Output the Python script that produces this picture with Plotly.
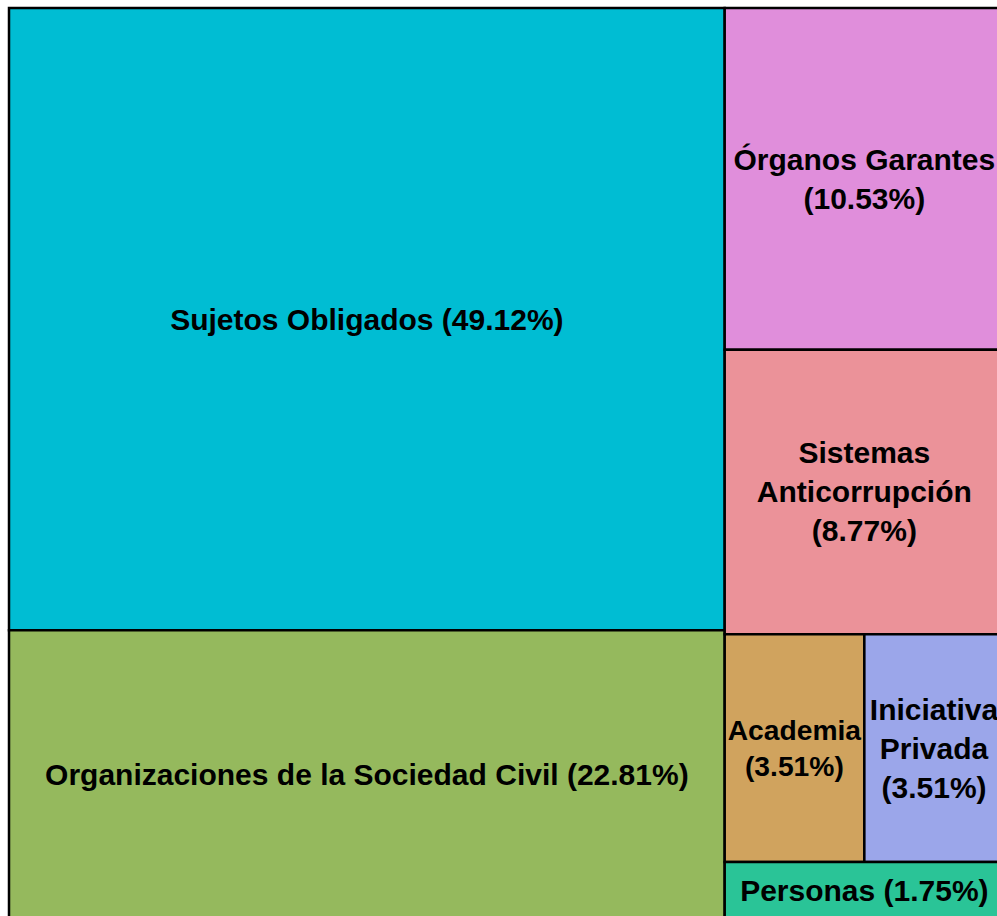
import plotly.graph_objects as go

labels = ["Sujetos Obligados", "Organizaciones de la Sociedad Civil", "Órganos Garantes",
          "Sistemas Anticorrupción", "Academia", "Iniciativa Privada", "Personas"]
display_text = ["Sujetos Obligados (49.12%)", "Organizaciones de la Sociedad Civil (22.81%)",
                "Órganos Garantes<br>(10.53%)", "Sistemas<br>Anticorrupción<br>(8.77%)",
                "Academia<br>(3.51%)", "Iniciativa<br>Privada<br>(3.51%)", "Personas (1.75%)"]
values = [28, 13, 6, 5, 2, 2, 1]
colors = ["#00BDD3", "#95B95D", "#E08EDB", "#EB9299", "#D0A35E", "#9BA6EA", "#2AC497"]

fig = go.Figure(go.Treemap(
    labels=labels,
    parents=[""] * len(labels),
    values=values,
    text=display_text,
    texttemplate="<b>%{text}</b>",
    textposition="middle center",
    textfont=dict(family="Liberation Sans, Arial, sans-serif", size=30, color="black"),
    marker=dict(colors=colors, line=dict(color="black", width=2.5),
                pad=dict(t=0, l=0, r=0, b=0)),
    tiling=dict(pad=0, squarifyratio=1.618),
    pathbar=dict(visible=False),
    hoverinfo="label+value",
    sort=True,
))
fig.update_layout(
    width=1004, height=919,
    margin=dict(l=9, r=0, t=8, b=0),
    paper_bgcolor="white",
    showlegend=False,
)
fig.write_html(
    "out.html",
    config={"displayModeBar": False},
    post_script="document.documentElement.style.overflow='hidden';document.body.style.margin='0';",
)
